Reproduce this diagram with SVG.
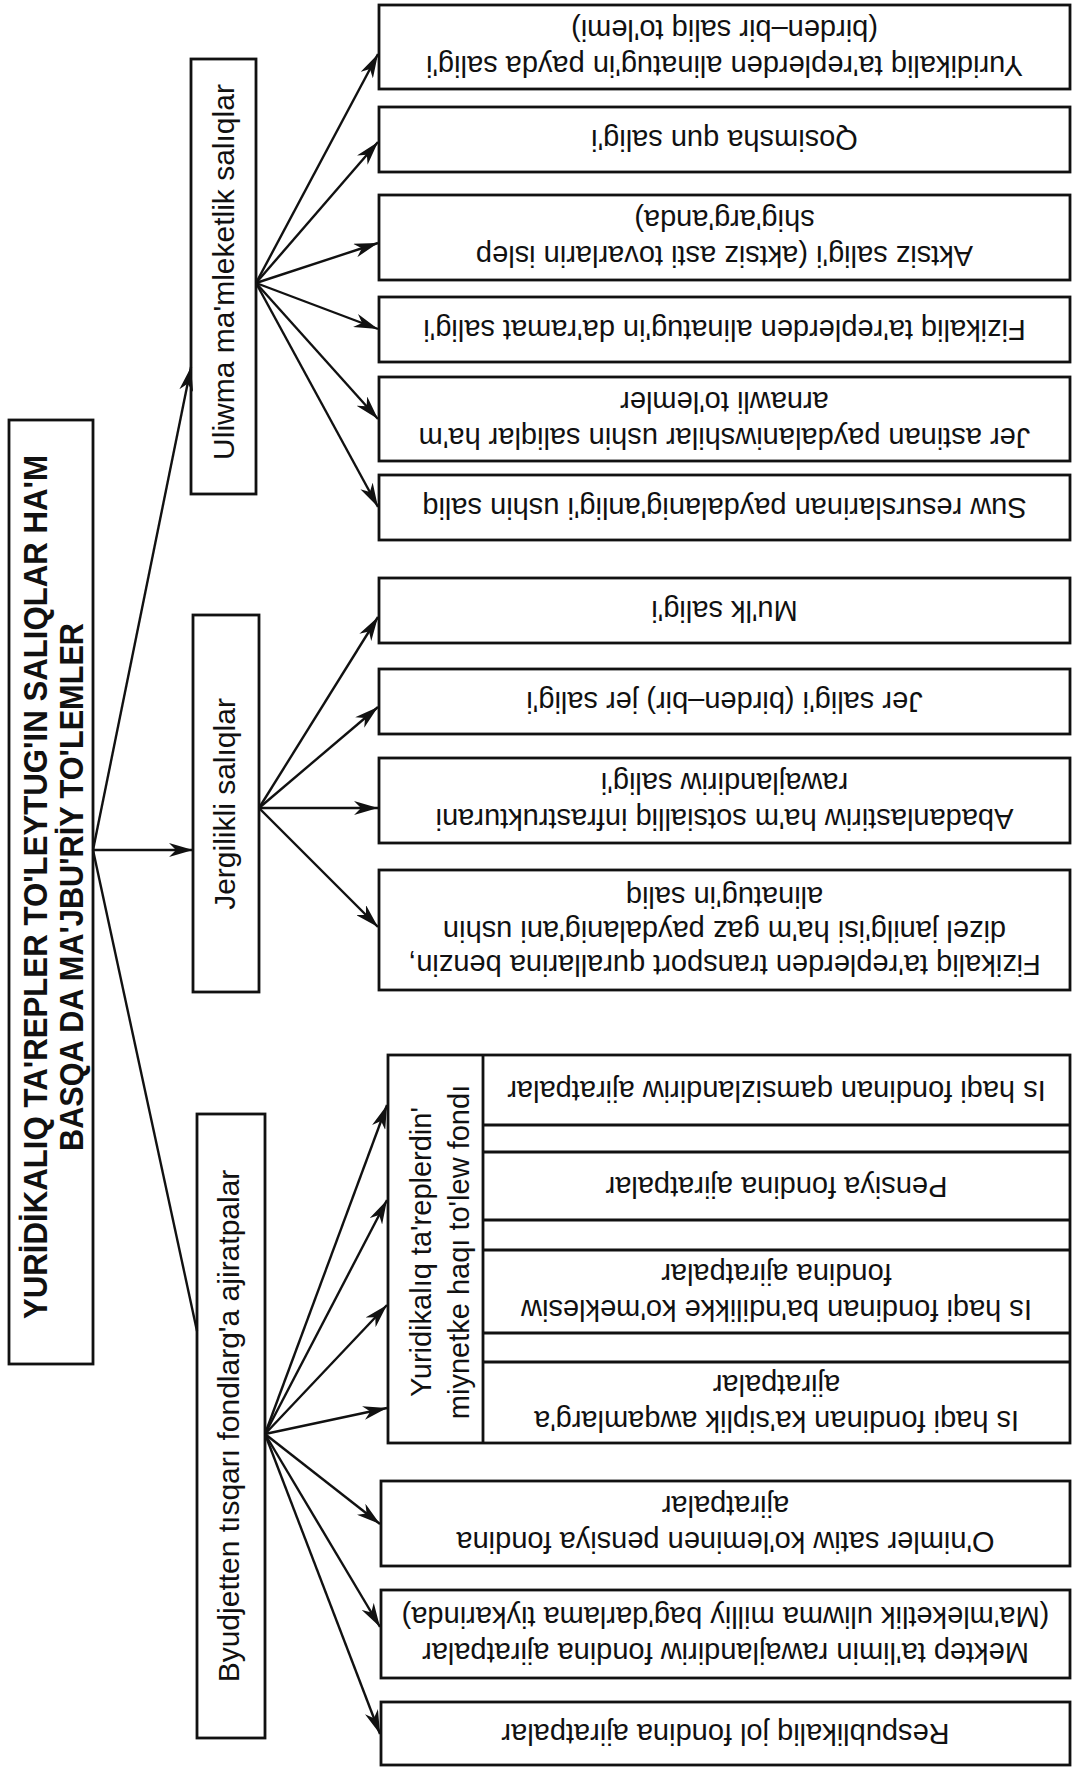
<svg xmlns="http://www.w3.org/2000/svg" width="1074" height="1769" viewBox="0 0 1074 1769">
<defs>
<style>
.box{fill:#fff;stroke:#111;stroke-width:2.8}
.ln{fill:none;stroke:#111;stroke-width:2.8}
.con{fill:none;stroke:#111;stroke-width:2.4}
.t{font-family:"Liberation Sans",Arial,sans-serif;font-size:29px;fill:#111;text-anchor:middle}
.s{font-family:"Liberation Sans",Arial,sans-serif;font-size:30px;fill:#111;text-anchor:middle}
.h{font-family:"Liberation Sans",Arial,sans-serif;font-size:34px;font-weight:bold;fill:#111;text-anchor:middle}
</style>
<marker id="ah" markerUnits="userSpaceOnUse" markerWidth="26" markerHeight="14" refX="24" refY="7" orient="auto">
<path d="M0,0 L24,7 L0,14 L7,7 z" fill="#111"/>
</marker>
</defs>
<rect width="1074" height="1769" fill="#fff"/>

<g id="title">
<rect class="box" x="9" y="420" width="84" height="944"/>
<text class="h" transform="translate(47,887) rotate(-90)" textLength="864" lengthAdjust="spacingAndGlyphs">YURİDİKALIQ TA'REPLER TO'LEYTUG'IN SALIQLAR HA'M</text>
<text class="h" transform="translate(83,887) rotate(-90)" textLength="528" lengthAdjust="spacingAndGlyphs">BASQA DA MA'JBU'RİY TO'LEMLER</text>
</g>

<g id="uliwma">
<rect class="box" x="191" y="59" width="65" height="435"/>
<text class="s" transform="translate(234,272) rotate(-90)">Uliwma ma'mleketlik salıqlar</text>
</g>
<g id="jergilikli">
<rect class="box" x="193" y="615" width="66" height="377"/>
<text class="s" transform="translate(235,804) rotate(-90)">Jergilikli salıqlar</text>
</g>
<g id="byudjetten">
<rect class="box" x="197" y="1114" width="68" height="624"/>
<text class="s" transform="translate(239,1426) rotate(-90)">Byudjetten tısqarı fondlarg'a ajiratpalar</text>
</g>

<g id="b1"><rect class="box" x="379" y="5" width="691" height="84"/>
<text class="t" transform="rotate(180 724.5 47)"><tspan x="724.5" y="38.5">Yuridikaliq ta'replerden alinatug'in payda salig'i</tspan><tspan x="724.5" y="74.5">(birden–bir saliq to'lemi)</tspan></text></g>
<g id="b2"><rect class="box" x="379" y="107" width="691" height="65"/>
<text class="t" transform="rotate(180 724.5 139.5)"><tspan x="724.5" y="149">Qosimsha qun salig'i</tspan></text></g>
<g id="b3"><rect class="box" x="379" y="195" width="691" height="85"/>
<text class="t" transform="rotate(180 724.5 237.5)"><tspan x="724.5" y="229">Aktsiz salig'i (aktsiz asti tovarlarin islep</tspan><tspan x="724.5" y="265">shig'arg'anda)</tspan></text></g>
<g id="b4"><rect class="box" x="379" y="297" width="691" height="65"/>
<text class="t" transform="rotate(180 724.5 329.5)"><tspan x="724.5" y="339">Fizikaliq ta'replerden alinatug'in da'ramat salig'i</tspan></text></g>
<g id="b5"><rect class="box" x="379" y="377" width="691" height="84"/>
<text class="t" transform="rotate(180 724.5 419)"><tspan x="724.5" y="410.5">Jer astinan paydalaniwshilar ushin saliqlar ha'm</tspan><tspan x="724.5" y="446.5">arnawli to'lemler</tspan></text></g>
<g id="b6"><rect class="box" x="379" y="475" width="691" height="65"/>
<text class="t" transform="rotate(180 724.5 507.5)"><tspan x="724.5" y="517">Suw resurslarinan paydalanig'anlig'i ushin saliq</tspan></text></g>

<g id="b7"><rect class="box" x="379" y="578" width="691" height="65"/>
<text class="t" transform="rotate(180 724.5 610.5)"><tspan x="724.5" y="620">Mu'lk salig'i</tspan></text></g>
<g id="b8"><rect class="box" x="379" y="669" width="691" height="65"/>
<text class="t" transform="rotate(180 724.5 701.5)"><tspan x="724.5" y="711">Jer salig'i (birden–bir) jer salig'i</tspan></text></g>
<g id="b9"><rect class="box" x="379" y="758" width="691" height="85"/>
<text class="t" transform="rotate(180 724.5 800.5)"><tspan x="724.5" y="792">Abadanlastiriw ha'm sotsialliq infrastrukturani</tspan><tspan x="724.5" y="828">rawajlandiriw salig'i</tspan></text></g>
<g id="b10"><rect class="box" x="379" y="870" width="691" height="120"/>
<text class="t" transform="rotate(180 724.5 930)"><tspan x="724.5" y="905.5">Fizikaliq ta'replerden transport qurallarina benzin,</tspan><tspan x="724.5" y="939.5">dizel janilg'isi ha'm gaz  paydalanig'ani ushin</tspan><tspan x="724.5" y="973.5">alinatug'in saliq</tspan></text></g>

<g id="fund">
<rect class="box" x="388" y="1055" width="682" height="388"/>
<path class="ln" d="M483,1055 V1443 M483,1125 H1070 M483,1152 H1070 M483,1220 H1070 M483,1250 H1070 M483,1333 H1070 M483,1362 H1070"/>
<text class="t" transform="translate(431,1252) rotate(-90)">Yuridikalıq ta'replerdin'</text>
<text class="t" transform="translate(469,1252) rotate(-90)">miynetke haqı to'lew fondı</text>
<text class="t" transform="rotate(180 776.5 1090)"><tspan x="776.5" y="1099.5">Is haqi fondinan qamsizlandiriw ajiratpalar</tspan></text>
<text class="t" transform="rotate(180 776.5 1186)"><tspan x="776.5" y="1195.5">Pensiya fondina ajiratpalar</tspan></text>
<text class="t" transform="rotate(180 776.5 1291.5)"><tspan x="776.5" y="1283">Is haqi fondinan ba'ndilikke ko'meklesiw</tspan><tspan x="776.5" y="1319">fondina ajiratpalar</tspan></text>
<text class="t" transform="rotate(180 776.5 1402.5)"><tspan x="776.5" y="1394">Is haqi fondinan ka'siplik awqamlarg'a</tspan><tspan x="776.5" y="1430">ajiratpalar</tspan></text>
</g>

<g id="b12"><rect class="box" x="381" y="1481" width="689" height="85"/>
<text class="t" transform="rotate(180 725.5 1523.5)"><tspan x="725.5" y="1515">O'nimler satiw ko'leminen pensiya fondina</tspan><tspan x="725.5" y="1551">ajiratpalar</tspan></text></g>
<g id="b13"><rect class="box" x="381" y="1590" width="689" height="88"/>
<text class="t" transform="rotate(180 725.5 1634)"><tspan x="725.5" y="1625.5">Mektep ta'limin rawajlandiriw fondina ajiratpalar</tspan><tspan x="725.5" y="1661.5">(Ma'mleketlik uliwma milliy bag'darlama tiykarinda)</tspan></text></g>
<g id="b14"><rect class="box" x="381" y="1702" width="689" height="63"/>
<text class="t" transform="rotate(180 725.5 1733.5)"><tspan x="725.5" y="1743">Respublikaliq jol fondina ajiratpalar</tspan></text></g>

<g id="connectors" class="con">
<line x1="93" y1="850" x2="191" y2="367" marker-end="url(#ah)"/>
<line x1="93" y1="850" x2="193" y2="850" marker-end="url(#ah)"/>
<line x1="93" y1="850" x2="197" y2="1331"/>
<line x1="256" y1="283" x2="378" y2="54" marker-end="url(#ah)"/>
<line x1="256" y1="283" x2="378" y2="142" marker-end="url(#ah)"/>
<line x1="256" y1="283" x2="378" y2="243" marker-end="url(#ah)"/>
<line x1="256" y1="283" x2="378" y2="329" marker-end="url(#ah)"/>
<line x1="256" y1="283" x2="378" y2="419" marker-end="url(#ah)"/>
<line x1="256" y1="283" x2="378" y2="507" marker-end="url(#ah)"/>
<line x1="259" y1="808" x2="378" y2="617" marker-end="url(#ah)"/>
<line x1="259" y1="808" x2="378" y2="707" marker-end="url(#ah)"/>
<line x1="259" y1="808" x2="378" y2="808" marker-end="url(#ah)"/>
<line x1="259" y1="808" x2="378" y2="927" marker-end="url(#ah)"/>
<line x1="265" y1="1434" x2="387" y2="1105" marker-end="url(#ah)"/>
<line x1="265" y1="1434" x2="387" y2="1200" marker-end="url(#ah)"/>
<line x1="265" y1="1434" x2="387" y2="1305" marker-end="url(#ah)"/>
<line x1="265" y1="1434" x2="387" y2="1408" marker-end="url(#ah)"/>
<line x1="265" y1="1434" x2="380" y2="1524" marker-end="url(#ah)"/>
<line x1="265" y1="1434" x2="380" y2="1627" marker-end="url(#ah)"/>
<line x1="265" y1="1434" x2="380" y2="1734" marker-end="url(#ah)"/>
</g>
</svg>
